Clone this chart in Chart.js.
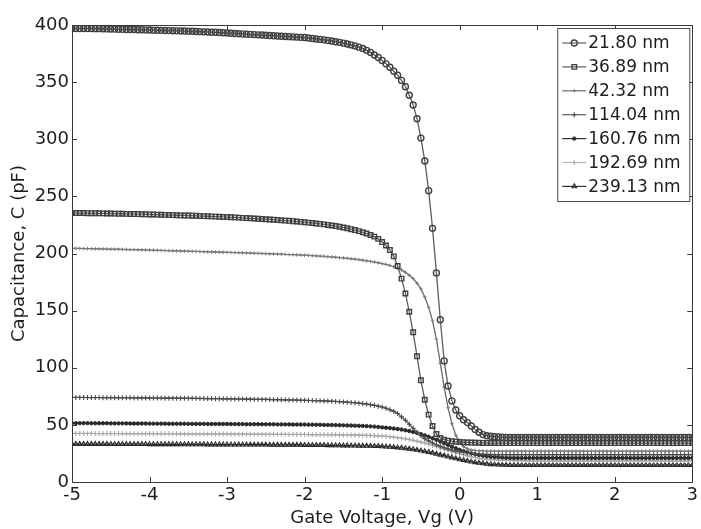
<!DOCTYPE html>
<html>
<head>
<meta charset="utf-8">
<title>Capacitance vs Gate Voltage</title>
<script src="https://cdn.jsdelivr.net/npm/chart.js@4/dist/chart.umd.min.js"></script>
<style>
    html, body { margin: 0; padding: 0; background: #fff; }
    .chart-wrap { position: relative; width: 701px; height: 529px; }
</style>
</head>
<body>
<div class="chart-wrap"><canvas id="cvChart" width="701" height="529"></canvas></div>
<script>
// Gate voltage sweep (V)
const volts = [
    -5, -4.95, -4.9, -4.85, -4.8, -4.75, -4.7, -4.65, -4.6, -4.55, -4.5, -4.45, -4.4, -4.35, -4.3, -4.25, -4.2, -4.15, -4.1, -4.05,
    -4, -3.95, -3.9, -3.85, -3.8, -3.75, -3.7, -3.65, -3.6, -3.55, -3.5, -3.45, -3.4, -3.35, -3.3, -3.25, -3.2, -3.15, -3.1, -3.05,
    -3, -2.95, -2.9, -2.85, -2.8, -2.75, -2.7, -2.65, -2.6, -2.55, -2.5, -2.45, -2.4, -2.35, -2.3, -2.25, -2.2, -2.15, -2.1, -2.05,
    -2, -1.95, -1.9, -1.85, -1.8, -1.75, -1.7, -1.65, -1.6, -1.55, -1.5, -1.45, -1.4, -1.35, -1.3, -1.25, -1.2, -1.15, -1.1, -1.05,
    -1, -0.95, -0.9, -0.85, -0.8, -0.75, -0.7, -0.65, -0.6, -0.55, -0.5, -0.45, -0.4, -0.35, -0.3, -0.25, -0.2, -0.15, -0.1, -0.05,
    0, 0.05, 0.1, 0.15, 0.2, 0.25, 0.3, 0.35, 0.4, 0.45, 0.5, 0.55, 0.6, 0.65, 0.7, 0.75, 0.8, 0.85, 0.9, 0.95,
    1, 1.05, 1.1, 1.15, 1.2, 1.25, 1.3, 1.35, 1.4, 1.45, 1.5, 1.55, 1.6, 1.65, 1.7, 1.75, 1.8, 1.85, 1.9, 1.95,
    2, 2.05, 2.1, 2.15, 2.2, 2.25, 2.3, 2.35, 2.4, 2.45, 2.5, 2.55, 2.6, 2.65, 2.7, 2.75, 2.8, 2.85, 2.9, 2.95,
    3
];

const thicknessLabels = ['21.80 nm', '36.89 nm', '42.32 nm', '114.04 nm', '160.76 nm', '192.69 nm', '239.13 nm'];

// Capacitance (pF), one value per sweep point
const c2180 = [
    397, 397, 397, 397, 397, 397, 396.8, 396.8, 396.7, 396.6, 396.5, 396.4, 396.3, 396.2, 396.1, 396, 396, 395.9, 395.8, 395.7,
    395.6, 395.5, 395.4, 395.3, 395.2, 395.1, 395, 394.9, 394.8, 394.7, 394.6, 394.5, 394.3, 394.2, 394, 393.9, 393.7, 393.6, 393.4, 393.2,
    393, 392.8, 392.6, 392.4, 392.2, 392, 391.8, 391.6, 391.4, 391.2, 391, 390.8, 390.6, 390.4, 390.2, 390, 389.8, 389.6, 389.4, 389.2,
    389, 388.6, 388.2, 387.8, 387.4, 387, 386.5, 386, 385.4, 384.8, 384.1, 383.4, 382.6, 381.7, 380.6, 379.4, 377.8, 376, 373.8, 371.5,
    369, 366, 363, 359.5, 356, 351.5, 346, 338.5, 330, 318, 301, 281, 255, 222, 183, 142, 106, 84, 71, 63,
    58, 54.5, 52, 49, 46, 43.5, 41.5, 40.5, 40, 39.6, 39.4, 39.2, 39.1, 39, 39, 39, 39, 39, 39, 39,
    39, 39, 39, 39, 39, 39, 39, 39, 39, 39, 39, 39, 39, 39, 39, 39, 39, 39, 39, 39,
    39, 39, 39, 39, 39, 39, 39, 39, 39, 39, 39, 39, 39, 39, 39, 39, 39, 39, 39, 39,
    39
];
const c3689 = [
    235.5, 235.5, 235.4, 235.4, 235.3, 235.3, 235.2, 235.2, 235.1, 235, 235, 234.9, 234.8, 234.8, 234.7, 234.6, 234.5, 234.5, 234.4, 234.3,
    234.2, 234.1, 234, 233.9, 233.8, 233.7, 233.6, 233.5, 233.4, 233.3, 233.2, 233.1, 233, 232.8, 232.7, 232.6, 232.5, 232.3, 232.2, 232,
    231.9, 231.7, 231.6, 231.4, 231.2, 231, 230.8, 230.6, 230.4, 230.2, 230, 229.8, 229.6, 229.3, 229.1, 228.8, 228.6, 228.3, 228, 227.7,
    227.4, 227, 226.7, 226.3, 225.9, 225.5, 225, 224.5, 224, 223.4, 222.8, 222.1, 221.3, 220.5, 219.6, 218.6, 217.5, 216.2, 214.8, 212.8,
    210, 207, 203, 197.5, 189, 178, 165, 149, 131, 110, 89, 72, 59, 49, 42, 38.5, 37, 36.2, 35.7, 35.3,
    35, 34.8, 34.6, 34.5, 34.4, 34.3, 34.2, 34.2, 34.1, 34.1, 34, 34, 34, 34, 34, 34, 34, 34, 34, 34,
    34, 34, 34, 34, 34, 34, 34, 34, 34, 34, 34, 34, 34, 34, 34, 34, 34, 34, 34, 34,
    34, 34, 34, 34, 34, 34, 34, 34, 34, 34, 34, 34, 34, 34, 34, 34, 34, 34, 34, 34,
    34
];
const c4232 = [
    204.5, 204.5, 204.4, 204.3, 204.3, 204.2, 204.1, 204, 204, 203.9, 203.8, 203.7, 203.7, 203.6, 203.5, 203.4, 203.4, 203.3, 203.2, 203.1,
    203, 202.9, 202.8, 202.7, 202.6, 202.5, 202.4, 202.3, 202.2, 202.1, 202, 201.9, 201.8, 201.7, 201.6, 201.5, 201.4, 201.3, 201.2, 201.1,
    201, 200.9, 200.8, 200.7, 200.6, 200.5, 200.4, 200.2, 200.1, 200, 199.9, 199.8, 199.6, 199.5, 199.4, 199.2, 199.1, 199, 198.8, 198.6,
    198.5, 198.3, 198.1, 197.9, 197.7, 197.5, 197.2, 197, 196.7, 196.4, 196.1, 195.8, 195.4, 195, 194.6, 194.1, 193.6, 193.1, 192.5, 191.9,
    191.2, 190.4, 189.5, 188.4, 187.2, 185.6, 183.5, 181, 178, 174, 169, 162, 153, 141, 125, 104, 83, 65, 51, 41,
    35, 31, 29, 28, 27.6, 27.4, 27.2, 27.1, 27, 27, 27, 27, 27, 27, 27, 27, 27, 27, 27, 27,
    27, 27, 27, 27, 27, 27, 27, 27, 27, 27, 27, 27, 27, 27, 27, 27, 27, 27, 27, 27,
    27, 27, 27, 27, 27, 27, 27, 27, 27, 27, 27, 27, 27, 27, 27, 27, 27, 27, 27, 27,
    27
];
const c11404 = [
    74, 74, 74, 74, 73.9, 73.9, 73.9, 73.9, 73.8, 73.8, 73.8, 73.8, 73.7, 73.7, 73.7, 73.7, 73.6, 73.6, 73.6, 73.6,
    73.5, 73.5, 73.5, 73.5, 73.4, 73.4, 73.4, 73.3, 73.3, 73.3, 73.2, 73.2, 73.2, 73.1, 73.1, 73, 73, 72.9, 72.9, 72.8,
    72.8, 72.7, 72.7, 72.6, 72.6, 72.5, 72.5, 72.4, 72.4, 72.3, 72.3, 72.2, 72.1, 72.1, 72, 71.9, 71.8, 71.8, 71.7, 71.6,
    71.5, 71.4, 71.3, 71.2, 71.1, 71, 70.8, 70.7, 70.5, 70.3, 70.1, 69.9, 69.6, 69.3, 69, 68.6, 68.2, 67.7, 67.1, 66.4,
    65.6, 64.6, 63.3, 61.8, 60, 57, 54, 50.5, 47, 43.5, 40.5, 38, 36, 34.2, 32.6, 31.2, 30, 29, 28, 27.2,
    26.5, 26, 25.5, 25.1, 24.8, 24.5, 24.3, 24.2, 24.1, 24, 24, 24, 24, 24, 24, 24, 24, 24, 24, 24,
    24, 24, 24, 24, 24, 24, 24, 24, 24, 24, 24, 24, 24, 24, 24, 24, 24, 24, 24, 24,
    24, 24, 24, 24, 24, 24, 24, 24, 24, 24, 24, 24, 24, 24, 24, 24, 24, 24, 24, 24,
    24
];
const c16076 = [
    51.5, 51.5, 51.5, 51.5, 51.5, 51.4, 51.4, 51.4, 51.4, 51.4, 51.3, 51.3, 51.3, 51.3, 51.3, 51.2, 51.2, 51.2, 51.2, 51.2,
    51.1, 51.1, 51.1, 51.1, 51.1, 51, 51, 51, 51, 51, 50.9, 50.9, 50.9, 50.9, 50.9, 50.8, 50.8, 50.8, 50.8, 50.8,
    50.8, 50.7, 50.7, 50.7, 50.7, 50.6, 50.6, 50.6, 50.6, 50.5, 50.5, 50.5, 50.5, 50.4, 50.4, 50.4, 50.4, 50.3, 50.3, 50.3,
    50.3, 50.2, 50.2, 50.1, 50.1, 50, 49.9, 49.9, 49.8, 49.7, 49.6, 49.5, 49.4, 49.3, 49.2, 49.1, 48.9, 48.7, 48.5, 48.2,
    47.8, 47.5, 47.2, 46.8, 46.4, 45.9, 45.3, 44.6, 43.8, 42.9, 41.9, 40.8, 39.6, 38.3, 36.9, 35.4, 33.9, 32.4, 30.9, 29.5,
    28.2, 27, 26, 25.1, 24.3, 23.6, 23, 22.5, 22.1, 21.8, 21.6, 21.4, 21.2, 21.1, 21, 21, 21, 21, 21, 21,
    21, 21, 21, 21, 21, 21, 21, 21, 21, 21, 21, 21, 21, 21, 21, 21, 21, 21, 21, 21,
    21, 21, 21, 21, 21, 21, 21, 21, 21, 21, 21, 21, 21, 21, 21, 21, 21, 21, 21, 21,
    21
];
const c19269 = [
    42.5, 42.5, 42.5, 42.5, 42.5, 42.5, 42.4, 42.4, 42.4, 42.4, 42.4, 42.4, 42.4, 42.3, 42.3, 42.3, 42.3, 42.3, 42.3, 42.3,
    42.3, 42.3, 42.2, 42.2, 42.2, 42.2, 42.2, 42.2, 42.1, 42.1, 42.1, 42.1, 42.1, 42.1, 42, 42, 42, 42, 42, 42,
    42, 41.9, 41.9, 41.9, 41.9, 41.9, 41.8, 41.8, 41.8, 41.8, 41.8, 41.7, 41.7, 41.7, 41.7, 41.7, 41.6, 41.6, 41.6, 41.6,
    41.6, 41.5, 41.5, 41.5, 41.4, 41.4, 41.4, 41.3, 41.3, 41.2, 41.2, 41.1, 41.1, 41, 41, 40.9, 40.8, 40.7, 40.6, 40.4,
    40.2, 39.9, 39.6, 39.2, 38.8, 38.3, 37.8, 37.2, 36.5, 35.8, 35, 34.1, 33.2, 32.2, 31.2, 30.1, 29, 27.9, 26.8, 25.7,
    24.7, 23.8, 22.9, 22.1, 21.4, 20.8, 20.3, 19.9, 19.6, 19.3, 19.1, 19, 18.9, 18.8, 18.7, 18.7, 18.6, 18.6, 18.5, 18.5,
    18.5, 18.5, 18.5, 18.5, 18.5, 18.5, 18.5, 18.5, 18.5, 18.5, 18.5, 18.5, 18.5, 18.5, 18.5, 18.5, 18.5, 18.5, 18.5, 18.5,
    18.5, 18.5, 18.5, 18.5, 18.5, 18.5, 18.5, 18.5, 18.5, 18.5, 18.5, 18.5, 18.5, 18.5, 18.5, 18.5, 18.5, 18.5, 18.5, 18.5,
    18.5
];
const c23913 = [
    33.2, 33.2, 33.2, 33.2, 33.2, 33.2, 33.2, 33.2, 33.2, 33.2, 33.1, 33.1, 33.1, 33.1, 33.1, 33.1, 33.1, 33.1, 33.1, 33.1,
    33, 33, 33, 33, 33, 33, 33, 33, 32.9, 32.9, 32.9, 32.9, 32.9, 32.9, 32.9, 32.8, 32.8, 32.8, 32.8, 32.8,
    32.8, 32.7, 32.7, 32.7, 32.7, 32.7, 32.6, 32.6, 32.6, 32.6, 32.6, 32.5, 32.5, 32.5, 32.5, 32.5, 32.4, 32.4, 32.4, 32.4,
    32.3, 32.3, 32.3, 32.2, 32.2, 32.2, 32.1, 32.1, 32, 32, 31.9, 31.9, 31.8, 31.8, 31.7, 31.7, 31.6, 31.5, 31.4, 31.3,
    31.1, 30.9, 30.7, 30.4, 30.1, 29.8, 29.4, 29, 28.5, 28, 27.4, 26.8, 26.1, 25.4, 24.6, 23.8, 23, 22.2, 21.4, 20.6,
    19.8, 19.1, 18.4, 17.8, 17.2, 16.7, 16.2, 15.8, 15.5, 15.3, 15.1, 15, 14.9, 14.8, 14.8, 14.7, 14.7, 14.7, 14.7, 14.7,
    14.7, 14.7, 14.7, 14.7, 14.7, 14.7, 14.7, 14.7, 14.7, 14.7, 14.7, 14.7, 14.7, 14.7, 14.7, 14.7, 14.7, 14.7, 14.7, 14.7,
    14.7, 14.7, 14.7, 14.7, 14.7, 14.7, 14.7, 14.7, 14.7, 14.7, 14.7, 14.7, 14.7, 14.7, 14.7, 14.7, 14.7, 14.7, 14.7, 14.7,
    14.7
];

const xTicks = [-5, -4, -3, -2, -1, 0, 1, 2, 3];
const yTicks = [0, 50, 100, 150, 200, 250, 300, 350, 400];

document.addEventListener('DOMContentLoaded', () => {
    const FONT = '"DejaVu Sans", "Liberation Sans", Arial, sans-serif';
    const TEXT = '#1e1e1e';

    const series = [c2180, c3689, c4232, c11404, c16076, c19269, c23913];
    // marker look per curve (grayscale MATLAB style)
    const looks = [
        { line: '#5e5e5e', mark: '#404040', fill: 'transparent', style: 'circle',   r: 3,   bw: 1.4 },
        { line: '#5e5e5e', mark: '#404040', fill: 'transparent', style: 'rect',     r: 3.2, bw: 1.4 },
        { line: '#6a6a6a', mark: '#7c7c7c', fill: 'transparent', style: 'cross',    r: 1.8, bw: 1 },
        { line: '#5e5e5e', mark: '#4a4a4a', fill: 'transparent', style: 'cross',    r: 2.5, bw: 1.1 },
        { line: '#333333', mark: '#2a2a2a', fill: '#2a2a2a',     style: 'circle',   r: 1.7, bw: 1 },
        { line: '#b4b4b4', mark: '#a8a8a8', fill: 'transparent', style: 'cross',    r: 2.5, bw: 1.1 },
        { line: '#333333', mark: '#2a2a2a', fill: 'transparent', style: 'triangle', r: 2.6, bw: 1.1 }
    ];

    const datasets = series.map((vals, i) => ({
        label: thicknessLabels[i],
        data: volts.map((v, k) => ({ x: v, y: vals[k] })),
        borderColor: looks[i].line,
        borderWidth: 1.3,
        pointStyle: looks[i].style,
        pointRadius: looks[i].r,
        pointBorderColor: looks[i].mark,
        pointBackgroundColor: looks[i].fill,
        pointBorderWidth: looks[i].bw,
        tension: 0,
        fill: false
    }));

    // Box around the plot with inward tick marks, like MATLAB
    const boxPlugin = {
        id: 'boxPlugin',
        afterDatasetsDraw(chart) {
            const { ctx, chartArea: a, scales } = chart;
            ctx.save();
            ctx.strokeStyle = '#3a3a3a';
            ctx.lineWidth = 1;
            ctx.strokeRect(Math.round(a.left) + 0.5, Math.round(a.top) + 0.5,
                Math.round(a.right - a.left), Math.round(a.bottom - a.top));
            ctx.beginPath();
            xTicks.forEach(t => {
                const px = Math.round(scales.x.getPixelForValue(t)) + 0.5;
                ctx.moveTo(px, a.bottom); ctx.lineTo(px, a.bottom - 5);
                ctx.moveTo(px, a.top); ctx.lineTo(px, a.top + 5);
            });
            yTicks.forEach(t => {
                const py = Math.round(scales.y.getPixelForValue(t)) + 0.5;
                ctx.moveTo(a.left, py); ctx.lineTo(a.left + 5, py);
                ctx.moveTo(a.right, py); ctx.lineTo(a.right - 5, py);
            });
            ctx.stroke();
            ctx.restore();
        }
    };

    // Legend box inside the plot, top right
    const legendPlugin = {
        id: 'insideLegend',
        afterDraw(chart) {
            const { ctx, chartArea: a } = chart;
            const w = 132, h = 173, step = 23.9;
            const left = a.right - w - 3, top = a.top + 3;
            ctx.save();
            ctx.fillStyle = '#fff';
            ctx.fillRect(left, top, w, h);
            ctx.strokeStyle = '#4a4a4a';
            ctx.lineWidth = 1;
            ctx.strokeRect(left + 0.5, top + 0.5, w, h);
            ctx.font = '17px ' + FONT;
            ctx.textBaseline = 'middle';
            chart.data.datasets.forEach((ds, i) => {
                const cy = top + 15 + i * step;
                ctx.strokeStyle = ds.borderColor;
                ctx.lineWidth = 1.2;
                ctx.beginPath();
                ctx.moveTo(left + 5, cy); ctx.lineTo(left + 29, cy);
                ctx.stroke();
                ctx.strokeStyle = ds.pointBorderColor;
                ctx.fillStyle = ds.pointBackgroundColor;
                ctx.lineWidth = ds.pointBorderWidth;
                Chart.helpers.drawPoint(ctx, {
                    pointStyle: ds.pointStyle, radius: ds.pointRadius,
                    borderWidth: ds.pointBorderWidth, rotation: 0
                }, left + 17, cy);
                ctx.fillStyle = TEXT;
                ctx.fillText(ds.label, left + 31, cy + 1);
            });
            ctx.restore();
        }
    };

    const ctx = document.getElementById('cvChart').getContext('2d');
    new Chart(ctx, {
        type: 'line',
        data: { datasets },
        plugins: [boxPlugin, legendPlugin],
        options: {
            responsive: false,
            animation: false,
            layout: { padding: { left: 9, top: 25, right: 6, bottom: 0 } },
            plugins: {
                legend: { display: false },
                tooltip: { enabled: false }
            },
            scales: {
                x: {
                    type: 'linear',
                    min: -5,
                    max: 3,
                    afterBuildTicks: s => { s.ticks = xTicks.map(v => ({ value: v })); },
                    afterFit: s => { s.height = 47; },
                    grid: { display: false, drawTicks: false },
                    border: { display: false },
                    ticks: { color: TEXT, font: { family: FONT, size: 18 }, padding: 3, maxRotation: 0, autoSkip: false },
                    title: { display: true, text: 'Gate Voltage, Vg (V)', color: TEXT, font: { family: FONT, size: 18, lineHeight: 1.2 }, padding: 0 }
                },
                y: {
                    type: 'linear',
                    min: 0,
                    max: 400,
                    afterBuildTicks: s => { s.ticks = yTicks.map(v => ({ value: v })); },
                    afterFit: s => { s.width = 63; },
                    grid: { display: false, drawTicks: false },
                    border: { display: false },
                    ticks: { color: TEXT, font: { family: FONT, size: 18 }, padding: 3, autoSkip: false },
                    title: { display: true, text: 'Capacitance, C (pF)', color: TEXT, font: { family: FONT, size: 18, lineHeight: 1.2 }, padding: 0 }
                }
            }
        }
    });
});
</script>
</body>
</html>
